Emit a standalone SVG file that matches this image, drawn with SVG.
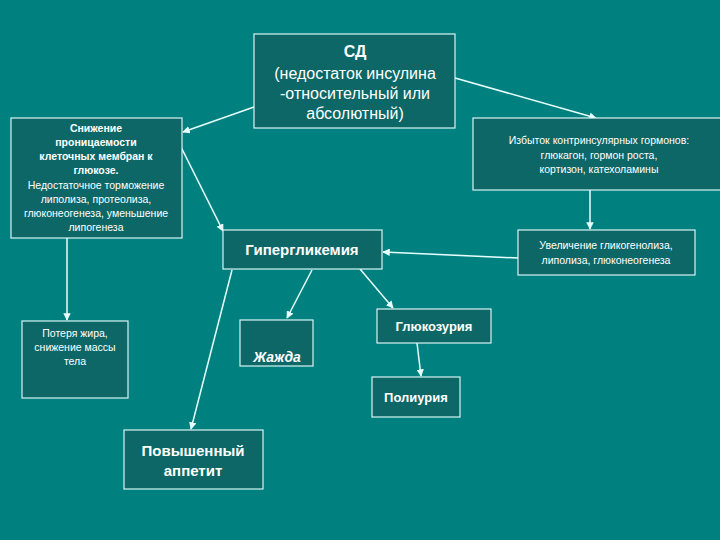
<svg xmlns="http://www.w3.org/2000/svg" width="720" height="540" viewBox="0 0 720 540">
<style>
.b{fill:#0d6767;stroke:#d8f4f4;stroke-width:1.2}
.c{stroke:#e8ffff;stroke-width:1.5;fill:none;marker-end:url(#a)}
text{font-family:"Liberation Sans",Arial,sans-serif;fill:#fff;text-anchor:middle}
.bold{font-weight:bold}
</style>
<defs><marker id="a" viewBox="0 0 10 10" refX="9" refY="5" markerWidth="5" markerHeight="5" orient="auto"><path d="M0,0L10,5L0,10z" fill="#e8ffff"/></marker></defs>
<rect width="720" height="540" fill="#018080"/>
<g id="connectors">
<line class="c" x1="254" y1="107" x2="183" y2="132"/>
<line class="c" x1="455" y1="78" x2="596" y2="118"/>
<line class="c" x1="180" y1="145" x2="223" y2="231"/>
<line class="c" x1="590" y1="190" x2="590" y2="229"/>
<line class="c" x1="518" y1="258" x2="383" y2="252"/>
<line class="c" x1="232" y1="270" x2="191" y2="429"/>
<line class="c" x1="312" y1="270" x2="287" y2="318"/>
<line class="c" x1="360" y1="269" x2="393" y2="308"/>
<line class="c" x1="417" y1="343" x2="421" y2="376"/>
<line class="c" x1="67" y1="238" x2="67" y2="320"/>
</g>
<g id="sd"><rect class="b" x="254" y="34" width="201" height="94"/>
<text x="355" y="57" font-size="16" class="bold">СД</text>
<text x="355" y="79" font-size="16">(недостаток инсулина</text>
<text x="355" y="99" font-size="16">-относительный или</text>
<text x="355" y="119" font-size="16">абсолютный)</text></g>
<g id="snizh"><rect class="b" x="11" y="118" width="171" height="120"/>
<text x="96" y="132" font-size="10.5" class="bold">Снижение</text>
<text x="96" y="146" font-size="10.5" class="bold">проницаемости</text>
<text x="96" y="160" font-size="10.5" class="bold">клеточных мембран к</text>
<text x="96" y="174" font-size="10.5" class="bold">глюкозе.</text>
<text x="96" y="189" font-size="10.5">Недостаточное торможение</text>
<text x="96" y="203" font-size="10.5">липолиза, протеолиза,</text>
<text x="96" y="217" font-size="10.5">глюконеогенеза, уменьшение</text>
<text x="96" y="231" font-size="10.5">липогенеза</text></g>
<g id="izb"><rect class="b" x="473" y="118" width="250" height="72"/>
<text x="599" y="144" font-size="10.5">Избыток контринсулярных гормонов:</text>
<text x="599" y="159" font-size="10.5">глюкагон, гормон роста,</text>
<text x="599" y="173" font-size="10.5">кортизон, катехоламины</text></g>
<g id="uvel"><rect class="b" x="518" y="230" width="177" height="45"/>
<text x="606" y="249" font-size="10.5">Увеличение гликогенолиза,</text>
<text x="606" y="264" font-size="10.5">липолиза, глюконеогенеза</text></g>
<g id="giper"><rect class="b" x="223" y="230" width="159" height="39"/>
<text x="302" y="255" font-size="15" class="bold">Гипергликемия</text></g>
<g id="gluk"><rect class="b" x="377" y="309" width="114" height="34"/>
<text x="434" y="331" font-size="13" class="bold">Глюкозурия</text></g>
<g id="poli"><rect class="b" x="372" y="377" width="88" height="40"/>
<text x="416" y="402" font-size="13" class="bold">Полиурия</text></g>
<g id="zhazh"><rect class="b" x="240" y="320" width="73" height="46"/>
<text x="277" y="362" font-size="14" font-style="italic" class="bold">Жажда</text></g>
<g id="poter"><rect class="b" x="22" y="321" width="106" height="77"/>
<text x="75" y="337" font-size="10.5">Потеря жира,</text>
<text x="75" y="351" font-size="10.5">снижение массы</text>
<text x="75" y="365" font-size="10.5">тела</text></g>
<g id="appetit"><rect class="b" x="124" y="430" width="139" height="59"/>
<text x="193" y="456" font-size="15" class="bold">Повышенный</text>
<text x="193" y="476" font-size="15" class="bold">аппетит</text></g>
</svg>
